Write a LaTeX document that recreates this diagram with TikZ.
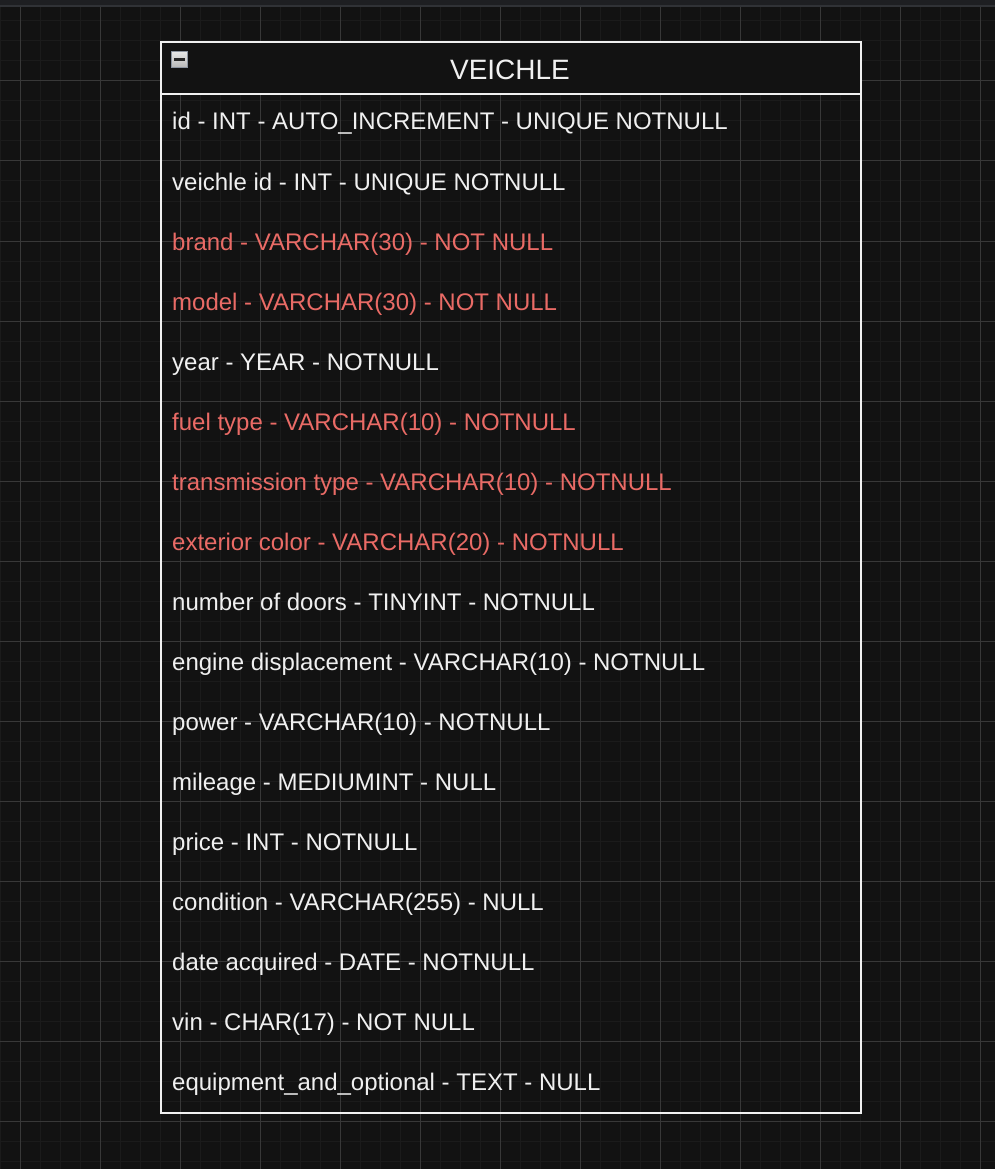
\documentclass[tikz,border=0pt]{standalone}
\usepackage{fontspec}
\setmainfont{Liberation Sans}
\definecolor{bg}{HTML}{121212}
\definecolor{gridminor}{HTML}{1B1B1B}
\definecolor{gridmajor}{HTML}{383838}
\definecolor{topbar}{HTML}{1E1F22}
\definecolor{topline}{HTML}{303236}
\definecolor{fg}{HTML}{F0F0F0}
\definecolor{redtxt}{HTML}{EA6B66}
\definecolor{iconborder}{HTML}{8C94A0}
\definecolor{icontop}{HTML}{E8E8E8}
\definecolor{iconbot}{HTML}{B8B8B8}
\tikzset{
  row/.style={anchor=base west, inner sep=0pt, text=fg, font=\fontsize{24}{28}\selectfont},
  redrow/.style={row, text=redtxt},
  titletext/.style={anchor=base, inner sep=0pt, text=fg, font=\fontsize{28}{32}\selectfont},
}
\begin{document}
\begin{tikzpicture}[x=1pt,y=-1pt]
\useasboundingbox (0,0) rectangle (995,1169);
\fill[bg] (0,0) rectangle (995,1169);
% minor grid
\foreach \x in {0,20,...,980} \draw[gridminor, line width=1pt] (\x,0) -- (\x,1169);
\foreach \y in {1,21,...,1161} \draw[gridminor, line width=1pt] (0,\y) -- (995,\y);
% major grid
\foreach \x in {20,100,...,980} \draw[gridmajor, line width=1pt] (\x,0) -- (\x,1169);
\foreach \y in {81,161,...,1161} \draw[gridmajor, line width=1pt] (0,\y) -- (995,\y);
% top bar
\fill[topbar] (0,0) rectangle (995,5);
\fill[topline] (0,5) rectangle (995,7);
% table
\fill[bg] (161,42) rectangle (861,94);
\draw[fg, line width=2pt] (161,42) rectangle (861,1113);
\draw[fg, line width=2pt] (161,94) -- (861,94);
% collapse icon
\node[draw=iconborder, line width=1.5pt, top color=icontop, bottom color=iconbot, minimum width=16pt, minimum height=16pt, inner sep=0pt] (icon) at (179.5,59.5) {};
\fill[black!85] ([xshift=3pt,yshift=1pt]icon.west) rectangle ([xshift=-3pt,yshift=-1.5pt]icon.east);
\node[titletext] (title) at (510,79.5) {VEICHLE};
\node[row] (r1) at (172,130) {id - INT - AUTO\_INCREMENT - UNIQUE NOTNULL};
\node[row] (r2) at (172,190) {veichle id - INT - UNIQUE NOTNULL};
\node[redrow] (r3) at (172,250) {brand - VARCHAR(30) - NOT NULL};
\node[redrow] (r4) at (172,310) {model - VARCHAR(30) - NOT NULL};
\node[row] (r5) at (172,370) {year - YEAR - NOTNULL};
\node[redrow] (r6) at (172,430) {fuel type - VARCHAR(10) - NOTNULL};
\node[redrow] (r7) at (172,490) {transmission type - VARCHAR(10) - NOTNULL};
\node[redrow] (r8) at (172,550) {exterior color - VARCHAR(20) - NOTNULL};
\node[row] (r9) at (172,610) {number of doors - TINYINT - NOTNULL};
\node[row] (r10) at (172,670) {engine displacement - VARCHAR(10) - NOTNULL};
\node[row] (r11) at (172,730) {power - VARCHAR(10) - NOTNULL};
\node[row] (r12) at (172,790) {mileage - MEDIUMINT - NULL};
\node[row] (r13) at (172,850) {price - INT - NOTNULL};
\node[row] (r14) at (172,910) {condition - VARCHAR(255) - NULL};
\node[row] (r15) at (172,970) {date acquired - DATE - NOTNULL};
\node[row] (r16) at (172,1030) {vin - CHAR(17) - NOT NULL};
\node[row] (r17) at (172,1090) {equipment\_and\_optional - TEXT - NULL};
\end{tikzpicture}
\end{document}
